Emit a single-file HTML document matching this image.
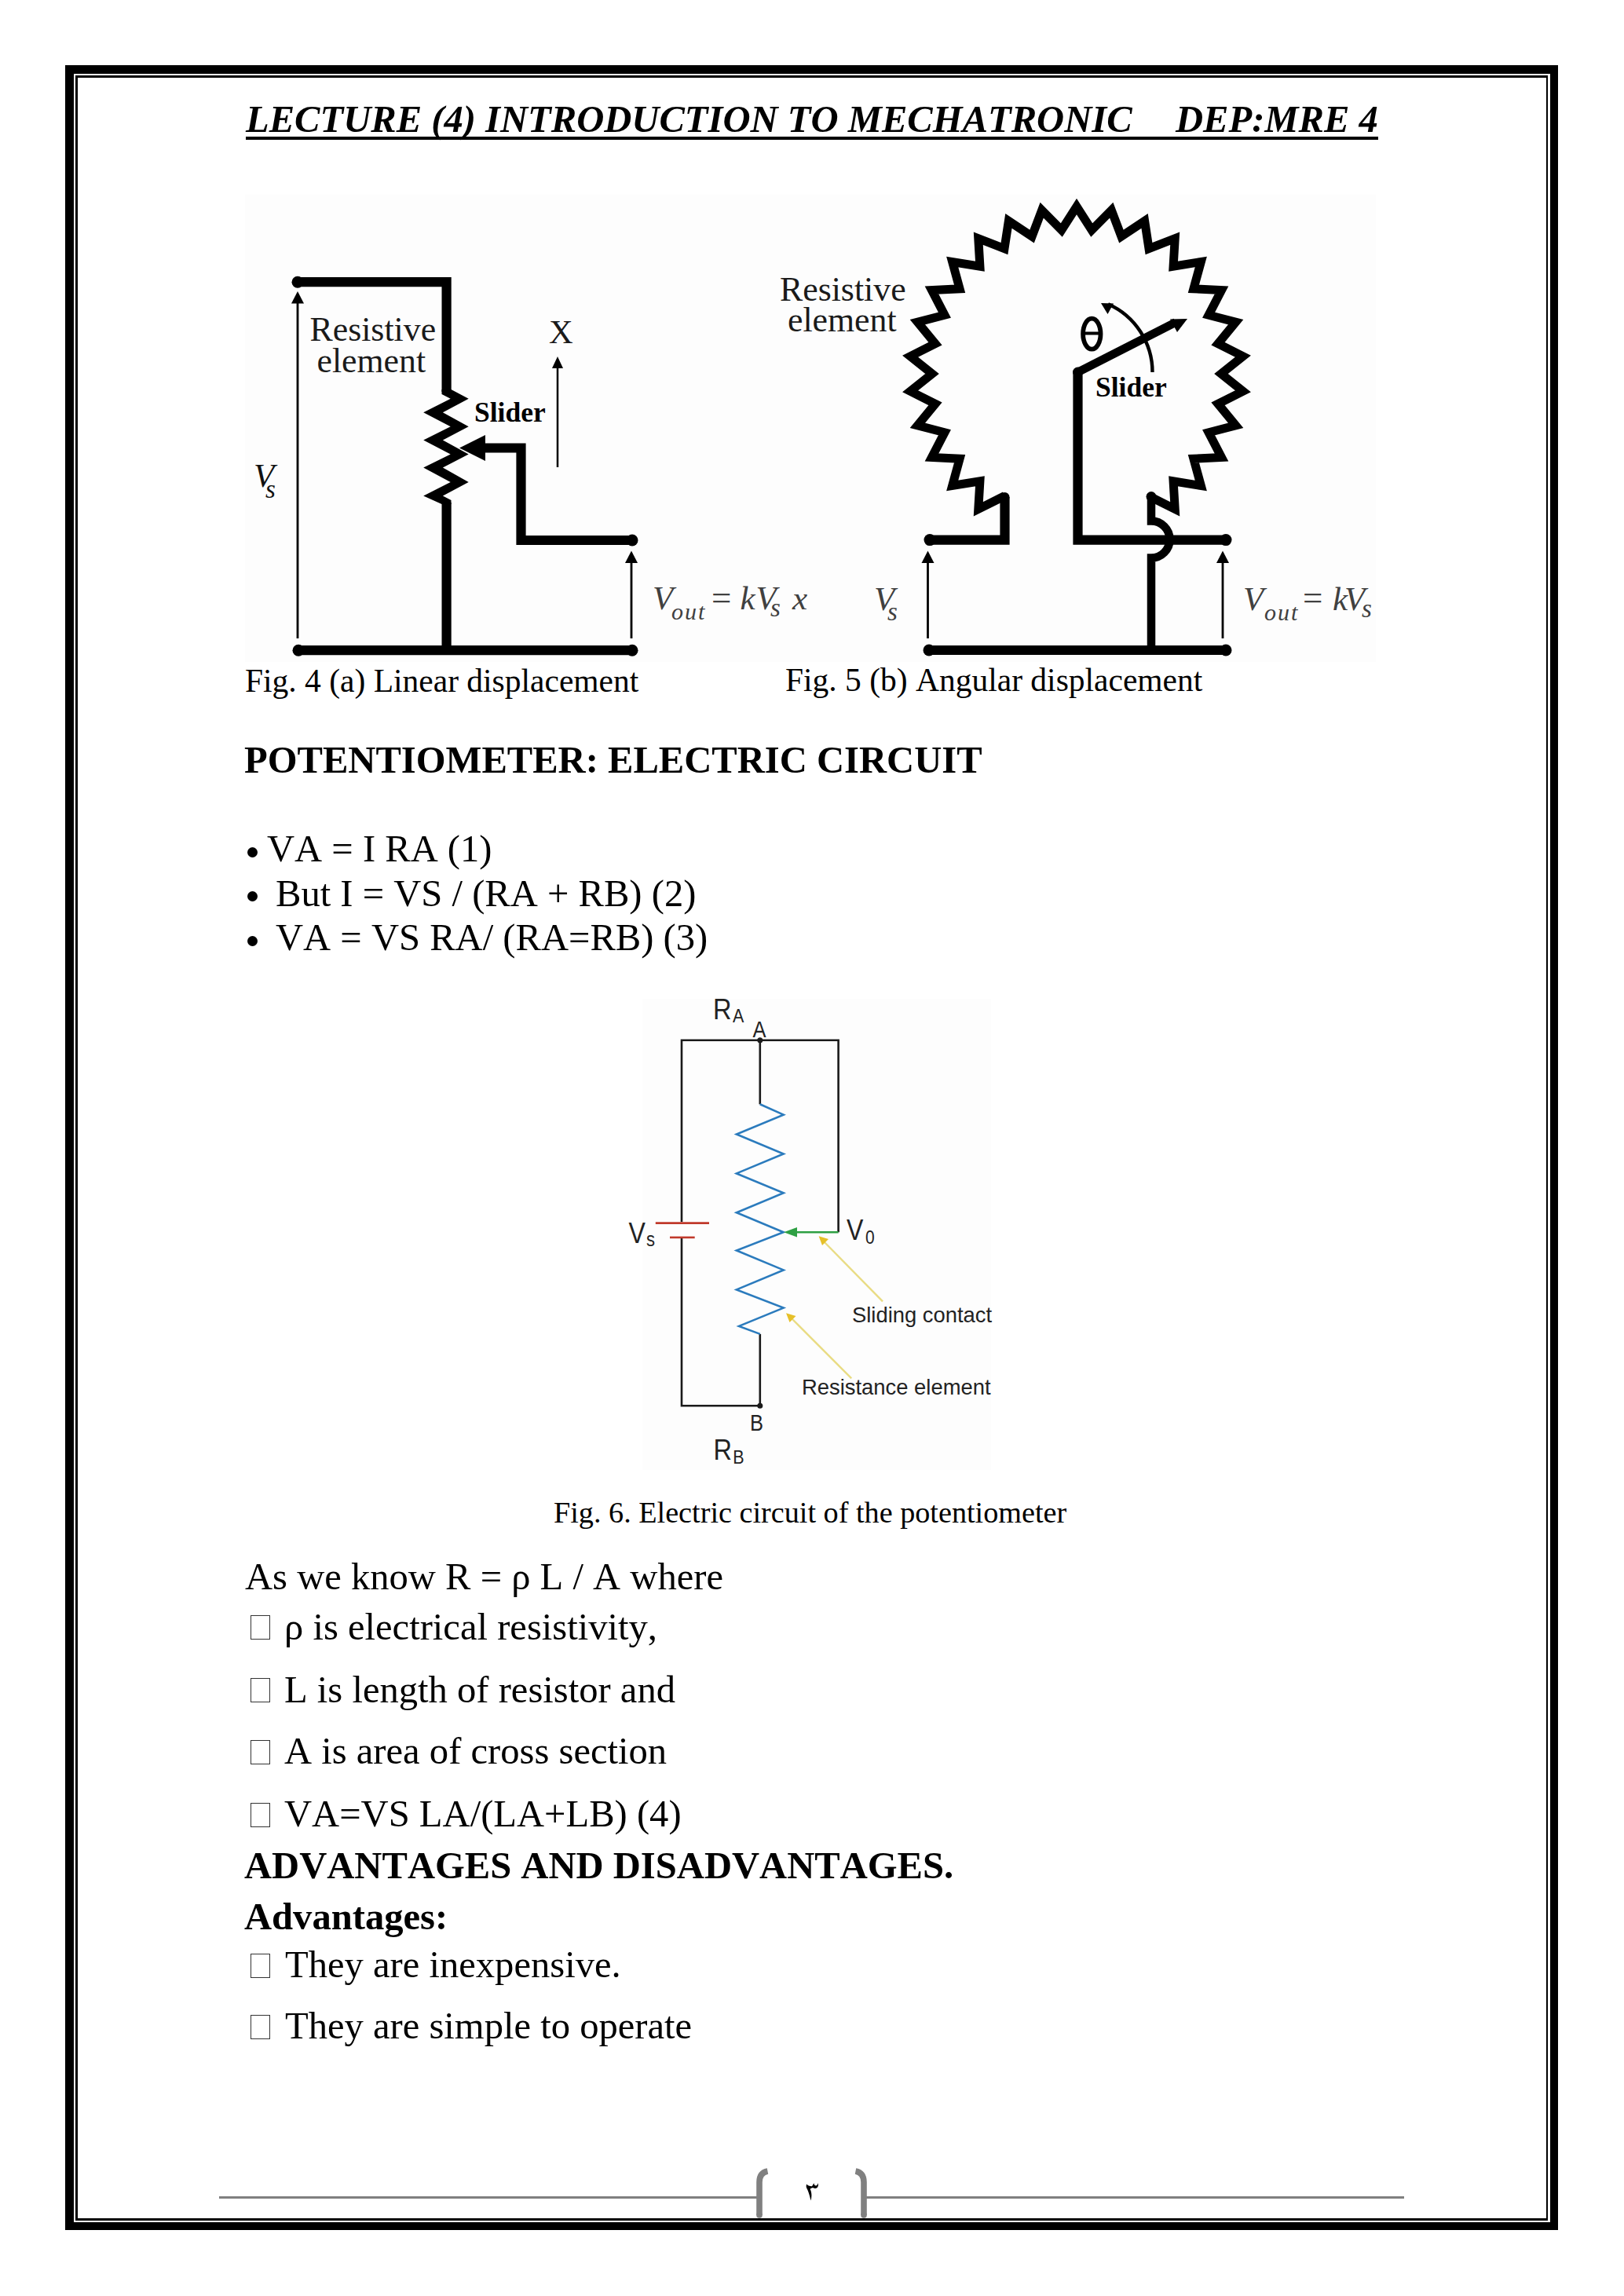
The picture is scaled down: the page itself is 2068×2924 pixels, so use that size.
<!DOCTYPE html>
<html><head><meta charset="utf-8"><style>
html,body{margin:0;padding:0;background:#fff;}
body{width:2068px;height:2924px;position:relative;overflow:hidden;}
.t{position:absolute;white-space:pre;font-kerning:none;}
svg{position:absolute;left:0;top:0;}
</style></head><body>
<div style="position:absolute;left:83px;top:83px;width:1901px;height:2757px;box-sizing:border-box;border-style:solid;border-color:#000;border-width:11px 10px 10px 11px"></div>
<div style="position:absolute;left:96px;top:96px;width:1875px;height:2732px;box-sizing:border-box;border-style:solid;border-color:#000;border-width:3px 2px 3px 3px"></div>
<div class="t" style="left:313.0px;top:127.9px;font-family:'Liberation Serif', serif;font-size:48.6px;line-height:48.6px;font-weight:bold;font-style:italic;color:#000;">LECTURE (4) INTRODUCTION TO MECHATRONIC</div>
<div class="t" style="left:1497.0px;top:127.9px;font-family:'Liberation Serif', serif;font-size:48.6px;line-height:48.6px;font-weight:bold;font-style:italic;color:#000;">DEP:MRE 4</div>
<div style="position:absolute;left:313px;top:174px;width:1442px;height:4px;background:#000"></div>
<div style="position:absolute;left:312px;top:248px;width:1440px;height:595px;background:#fdfdfd"></div>
<div class="t" style="left:394.5px;top:398.1px;font-family:'Liberation Serif', serif;font-size:43.8px;line-height:43.8px;font-weight:normal;font-style:normal;color:#1a1a1a;">Resistive</div>
<div class="t" style="left:403.5px;top:437.6px;font-family:'Liberation Serif', serif;font-size:43.8px;line-height:43.8px;font-weight:normal;font-style:normal;color:#1a1a1a;">element</div>
<div class="t" style="left:699.0px;top:401.9px;font-family:'Liberation Serif', serif;font-size:42.5px;line-height:42.5px;font-weight:normal;font-style:normal;color:#1a1a1a;">X</div>
<div class="t" style="left:604.0px;top:508.0px;font-family:'Liberation Serif', serif;font-size:35.5px;line-height:35.5px;font-weight:bold;font-style:normal;color:#000;">Slider</div>
<div class="t" style="left:323.0px;top:584.3px;font-family:'Liberation Serif', serif;font-size:43px;line-height:43px;font-weight:normal;font-style:italic;color:#111;">V</div>
<div class="t" style="left:338.0px;top:606.9px;font-family:'Liberation Serif', serif;font-size:33px;line-height:33px;font-weight:normal;font-style:italic;color:#111;">s</div>
<div class="t" style="left:831.0px;top:740.4px;font-family:'Liberation Serif', serif;font-size:43px;line-height:43px;font-weight:normal;font-style:italic;color:#404040;">V</div>
<div class="t" style="left:855.0px;top:764.2px;font-family:'Liberation Serif', serif;font-size:30px;line-height:30px;font-weight:normal;font-style:italic;color:#404040;letter-spacing:2px">out</div>
<div class="t" style="left:906.0px;top:738.7px;font-family:'Liberation Serif', serif;font-size:45px;line-height:45px;font-weight:normal;font-style:normal;color:#404040;">=</div>
<div class="t" style="left:942.5px;top:740.4px;font-family:'Liberation Serif', serif;font-size:43px;line-height:43px;font-weight:normal;font-style:italic;color:#404040;">k</div>
<div class="t" style="left:962.5px;top:740.4px;font-family:'Liberation Serif', serif;font-size:43px;line-height:43px;font-weight:normal;font-style:italic;color:#404040;">V</div>
<div class="t" style="left:981.0px;top:757.9px;font-family:'Liberation Serif', serif;font-size:33px;line-height:33px;font-weight:normal;font-style:italic;color:#404040;">s</div>
<div class="t" style="left:1009.0px;top:740.4px;font-family:'Liberation Serif', serif;font-size:43px;line-height:43px;font-weight:normal;font-style:italic;color:#404040;">x</div>
<div class="t" style="left:312.0px;top:847.2px;font-family:'Liberation Serif', serif;font-size:41.5px;line-height:41.5px;font-weight:normal;font-style:normal;color:#000;">Fig. 4 (a) Linear displacement</div>
<div class="t" style="left:993.0px;top:347.1px;font-family:'Liberation Serif', serif;font-size:43.8px;line-height:43.8px;font-weight:normal;font-style:normal;color:#1a1a1a;">Resistive</div>
<div class="t" style="left:1003.0px;top:386.3px;font-family:'Liberation Serif', serif;font-size:43.8px;line-height:43.8px;font-weight:normal;font-style:normal;color:#1a1a1a;">element</div>
<div class="t" style="left:1395.0px;top:476.3px;font-family:'Liberation Serif', serif;font-size:35.5px;line-height:35.5px;font-weight:bold;font-style:normal;color:#000;">Slider</div>
<div class="t" style="left:1113.0px;top:741.0px;font-family:'Liberation Serif', serif;font-size:43px;line-height:43px;font-weight:normal;font-style:italic;color:#404040;">V</div>
<div class="t" style="left:1130.0px;top:763.4px;font-family:'Liberation Serif', serif;font-size:33px;line-height:33px;font-weight:normal;font-style:italic;color:#404040;">s</div>
<div class="t" style="left:1583.0px;top:741.0px;font-family:'Liberation Serif', serif;font-size:43px;line-height:43px;font-weight:normal;font-style:italic;color:#404040;">V</div>
<div class="t" style="left:1610.0px;top:764.9px;font-family:'Liberation Serif', serif;font-size:30px;line-height:30px;font-weight:normal;font-style:italic;color:#404040;letter-spacing:2px">out</div>
<div class="t" style="left:1659.0px;top:739.3px;font-family:'Liberation Serif', serif;font-size:45px;line-height:45px;font-weight:normal;font-style:normal;color:#404040;">=</div>
<div class="t" style="left:1697.0px;top:741.0px;font-family:'Liberation Serif', serif;font-size:43px;line-height:43px;font-weight:normal;font-style:italic;color:#404040;">k</div>
<div class="t" style="left:1712.0px;top:741.0px;font-family:'Liberation Serif', serif;font-size:43px;line-height:43px;font-weight:normal;font-style:italic;color:#404040;">V</div>
<div class="t" style="left:1734.0px;top:758.9px;font-family:'Liberation Serif', serif;font-size:33px;line-height:33px;font-weight:normal;font-style:italic;color:#404040;">s</div>
<div class="t" style="left:1000.0px;top:846.2px;font-family:'Liberation Serif', serif;font-size:41.5px;line-height:41.5px;font-weight:normal;font-style:normal;color:#000;">Fig. 5 (b) Angular displacement</div>
<div class="t" style="left:311.0px;top:943.7px;font-family:'Liberation Serif', serif;font-size:48.6px;line-height:48.6px;font-weight:bold;font-style:normal;color:#000;">POTENTIOMETER: ELECTRIC CIRCUIT</div>
<div style="position:absolute;left:314.8px;top:1079.1px;width:13px;height:13px;border-radius:50%;background:#000"></div>
<div class="t" style="left:340.0px;top:1057.4px;font-family:'Liberation Serif', serif;font-size:48.6px;line-height:48.6px;font-weight:normal;font-style:normal;color:#000;">VA = I RA (1)</div>
<div style="position:absolute;left:314.8px;top:1135.3px;width:13px;height:13px;border-radius:50%;background:#000"></div>
<div class="t" style="left:351.0px;top:1113.6px;font-family:'Liberation Serif', serif;font-size:48.6px;line-height:48.6px;font-weight:normal;font-style:normal;color:#000;">But I = VS / (RA + RB) (2)</div>
<div style="position:absolute;left:314.8px;top:1191.5px;width:13px;height:13px;border-radius:50%;background:#000"></div>
<div class="t" style="left:351.0px;top:1169.8px;font-family:'Liberation Serif', serif;font-size:48.6px;line-height:48.6px;font-weight:normal;font-style:normal;color:#000;">VA = VS RA/ (RA=RB) (3)</div>
<div style="position:absolute;left:818px;top:1272px;width:444px;height:600px;background:#fdfdfd"></div>
<div class="t" style="left:908.0px;top:1270.7px;font-family:'Liberation Sans', sans-serif;font-size:32.5px;line-height:32.5px;font-weight:normal;font-style:normal;color:#222;transform:scaleY(1.13);transform-origin:0 26.8px">R</div>
<div class="t" style="left:933.0px;top:1285.1px;font-family:'Liberation Sans', sans-serif;font-size:21.5px;line-height:21.5px;font-weight:normal;font-style:normal;color:#222;transform:scaleY(1.13);transform-origin:0 17.6px">A</div>
<div class="t" style="left:958.5px;top:1299.8px;font-family:'Liberation Sans', sans-serif;font-size:25.5px;line-height:25.5px;font-weight:normal;font-style:normal;color:#222;transform:scaleY(1.13);transform-origin:0 21.0px">A</div>
<div class="t" style="left:800.5px;top:1556.1px;font-family:'Liberation Sans', sans-serif;font-size:32px;line-height:32px;font-weight:normal;font-style:normal;color:#222;transform:scaleY(1.13);transform-origin:0 26.4px">V</div>
<div class="t" style="left:823.0px;top:1569.3px;font-family:'Liberation Sans', sans-serif;font-size:22px;line-height:22px;font-weight:normal;font-style:normal;color:#222;transform:scaleY(1.13);transform-origin:0 18.0px">s</div>
<div class="t" style="left:1078.0px;top:1551.8px;font-family:'Liberation Sans', sans-serif;font-size:32px;line-height:32px;font-weight:normal;font-style:normal;color:#222;transform:scaleY(1.13);transform-origin:0 26.4px">V</div>
<div class="t" style="left:1102.0px;top:1565.9px;font-family:'Liberation Sans', sans-serif;font-size:21px;line-height:21px;font-weight:normal;font-style:normal;color:#222;transform:scaleY(1.13);transform-origin:0 17.2px">0</div>
<div class="t" style="left:1085.0px;top:1661.0px;font-family:'Liberation Sans', sans-serif;font-size:27.4px;line-height:27.4px;font-weight:normal;font-style:normal;color:#222;">Sliding contact</div>
<div class="t" style="left:1021.0px;top:1752.9px;font-family:'Liberation Sans', sans-serif;font-size:27.4px;line-height:27.4px;font-weight:normal;font-style:normal;color:#222;">Resistance element</div>
<div class="t" style="left:955.0px;top:1801.0px;font-family:'Liberation Sans', sans-serif;font-size:25.5px;line-height:25.5px;font-weight:normal;font-style:normal;color:#222;transform:scaleY(1.13);transform-origin:0 21.0px">B</div>
<div class="t" style="left:908.5px;top:1832.3px;font-family:'Liberation Sans', sans-serif;font-size:32.5px;line-height:32.5px;font-weight:normal;font-style:normal;color:#222;transform:scaleY(1.13);transform-origin:0 26.8px">R</div>
<div class="t" style="left:933.3px;top:1846.9px;font-family:'Liberation Sans', sans-serif;font-size:21.5px;line-height:21.5px;font-weight:normal;font-style:normal;color:#222;transform:scaleY(1.13);transform-origin:0 17.6px">B</div>
<div class="t" style="left:705.0px;top:1907.3px;font-family:'Liberation Serif', serif;font-size:38.2px;line-height:38.2px;font-weight:normal;font-style:normal;color:#000;">Fig. 6. Electric circuit of the potentiometer</div>
<div class="t" style="left:312.0px;top:1984.2px;font-family:'Liberation Serif', serif;font-size:48.6px;line-height:48.6px;font-weight:normal;font-style:normal;color:#000;">As we know R = ρ L / A where</div>
<div style="position:absolute;left:319px;top:2057.2px;width:25px;height:31px;box-sizing:border-box;border:1.5px solid #333"></div>
<div class="t" style="left:362.0px;top:2047.5px;font-family:'Liberation Serif', serif;font-size:48.6px;line-height:48.6px;font-weight:normal;font-style:normal;color:#000;">ρ is electrical resistivity,</div>
<div style="position:absolute;left:319px;top:2137.4px;width:25px;height:31px;box-sizing:border-box;border:1.5px solid #333"></div>
<div class="t" style="left:362.0px;top:2127.7px;font-family:'Liberation Serif', serif;font-size:48.6px;line-height:48.6px;font-weight:normal;font-style:normal;color:#000;">L is length of resistor and</div>
<div style="position:absolute;left:319px;top:2215.9px;width:25px;height:31px;box-sizing:border-box;border:1.5px solid #333"></div>
<div class="t" style="left:362.0px;top:2206.2px;font-family:'Liberation Serif', serif;font-size:48.6px;line-height:48.6px;font-weight:normal;font-style:normal;color:#000;">A is area of cross section</div>
<div style="position:absolute;left:319px;top:2295.6px;width:25px;height:31px;box-sizing:border-box;border:1.5px solid #333"></div>
<div class="t" style="left:362.0px;top:2285.9px;font-family:'Liberation Serif', serif;font-size:48.6px;line-height:48.6px;font-weight:normal;font-style:normal;color:#000;">VA=VS LA/(LA+LB) (4)</div>
<div class="t" style="left:311.0px;top:2351.9px;font-family:'Liberation Serif', serif;font-size:48.6px;line-height:48.6px;font-weight:bold;font-style:normal;color:#000;">ADVANTAGES AND DISADVANTAGES.</div>
<div class="t" style="left:311.0px;top:2416.5px;font-family:'Liberation Serif', serif;font-size:48.6px;line-height:48.6px;font-weight:bold;font-style:normal;color:#000;">Advantages:</div>
<div style="position:absolute;left:319px;top:2487.8px;width:25px;height:31px;box-sizing:border-box;border:1.5px solid #333"></div>
<div class="t" style="left:363.0px;top:2478.1px;font-family:'Liberation Serif', serif;font-size:48.6px;line-height:48.6px;font-weight:normal;font-style:normal;color:#000;">They are inexpensive.</div>
<div style="position:absolute;left:319px;top:2566px;width:25px;height:31px;box-sizing:border-box;border:1.5px solid #333"></div>
<div class="t" style="left:363.0px;top:2556.3px;font-family:'Liberation Serif', serif;font-size:48.6px;line-height:48.6px;font-weight:normal;font-style:normal;color:#000;">They are simple to operate</div>
<div style="position:absolute;left:279px;top:2797px;width:686px;height:3px;background:#808080"></div>
<div style="position:absolute;left:1102px;top:2797px;width:686px;height:3px;background:#808080"></div>
<svg width="2068" height="2924" viewBox="0 0 2068 2924">
<path d="M379,359.2 H568.6 V499" fill="none" stroke="#000" stroke-width="12.2"/>
<circle cx="379" cy="359.2" r="7.5" fill="#000"/>
<polygon points="574.5,496 596.7,507.8 563.9,525.2 596.7,543.3 563.9,560.4 596.7,578.5 563.9,595.6 596.7,614 563.9,631.5 574.5,637 574.5,642 562.5,642 539.2,631.5 573.7,614 539.2,595.6 573.7,578.5 539.2,560.4 573.7,543.3 539.2,525.2 573.7,507.8 562.5,502 562.5,496" fill="#000"/>
<path d="M568.6,640 V828.2" fill="none" stroke="#000" stroke-width="12.2"/>
<path d="M380,828.2 H805" fill="none" stroke="#000" stroke-width="12.2"/>
<circle cx="380" cy="828.2" r="7.5" fill="#000"/>
<circle cx="805" cy="828.2" r="7.5" fill="#000"/>
<path d="M612,570.5 H663.5 V688 H805" fill="none" stroke="#000" stroke-width="12.2"/>
<circle cx="805" cy="688" r="7.5" fill="#000"/>
<polygon points="585,570.5 618,554 618,587" fill="#000"/>
<line x1="379" y1="384.5" x2="379" y2="813" stroke="#000" stroke-width="2.8"/>
<polygon points="379,371 371,386.5 387,386.5" fill="#000"/>
<line x1="710" y1="467" x2="710" y2="595" stroke="#000" stroke-width="2.5"/>
<polygon points="710,454 703,469 717,469" fill="#000"/>
<line x1="804" y1="715.0" x2="804" y2="813" stroke="#000" stroke-width="2.8"/>
<polygon points="804,701.5 796,717.0 812,717.0" fill="#000"/>
<polyline points="1279.5,631.5 1245.8,648.3 1247.9,612.7 1212.7,618.5 1222.1,584.2 1186.5,582.5 1202.9,550.8 1168.4,541.8 1191.0,514.3 1159.2,498.3 1187.0,476.0 1159.2,453.7 1191.0,437.7 1168.4,410.2 1202.9,401.2 1186.5,369.5 1222.1,367.8 1212.7,333.5 1247.9,339.3 1245.8,303.7 1279.0,316.7 1284.4,281.4 1314.1,301.0 1326.7,267.7 1351.8,293.0 1371.0,263.0 1390.2,293.0 1415.3,267.7 1427.9,301.0 1457.6,281.4 1463.0,316.7 1496.2,303.7 1494.1,339.3 1529.3,333.5 1519.9,367.8 1555.5,369.5 1539.1,401.2 1573.6,410.2 1551.0,437.7 1582.8,453.7 1555.0,476.0 1582.8,498.3 1551.0,514.3 1573.6,541.8 1539.1,550.8 1555.5,582.5 1519.9,584.2 1529.3,618.5 1494.1,612.7 1496.2,648.3 1465.5,633.0" fill="none" stroke="#000" stroke-width="11" stroke-linejoin="miter" stroke-miterlimit="6"/>
<circle cx="1279.5" cy="633" r="6" fill="#000"/>
<path d="M1184,687.6 H1279.5 V633" fill="none" stroke="#000" stroke-width="12.2"/>
<circle cx="1184" cy="687.6" r="7.5" fill="#000"/>
<path d="M1372.5,474 V687.6 H1561" fill="none" stroke="#000" stroke-width="12.2"/>
<circle cx="1561" cy="687.6" r="7.5" fill="#000"/>
<circle cx="1372.5" cy="474" r="6.5" fill="#000"/>
<line x1="1372.5" y1="474" x2="1497" y2="410.5" stroke="#000" stroke-width="10.5"/>
<polygon points="1512,406 1490,406.5 1499,423" fill="#000"/>
<path d="M1466,632.5 V663.5 A23.5,23.5 0 0 1 1466,710.5 V828" fill="none" stroke="#000" stroke-width="10.5"/>
<circle cx="1466" cy="632.5" r="6.5" fill="#000"/>
<path d="M1183,828 H1561" fill="none" stroke="#000" stroke-width="12.2"/>
<circle cx="1183" cy="828" r="7.5" fill="#000"/>
<circle cx="1561" cy="828" r="7.5" fill="#000"/>
<line x1="1181.5" y1="715.0" x2="1181.5" y2="813" stroke="#000" stroke-width="2.8"/>
<polygon points="1181.5,701.5 1173.5,717.0 1189.5,717.0" fill="#000"/>
<line x1="1557" y1="715.0" x2="1557" y2="813" stroke="#000" stroke-width="2.8"/>
<polygon points="1557,701.5 1549,717.0 1565,717.0" fill="#000"/>
<path d="M1467.5,474.0 A95,95 0 0 0 1411.1,387.2" fill="none" stroke="#000" stroke-width="4.4"/>
<polygon points="1402,386 1418,386.5 1410.5,400" fill="#000"/>
<ellipse cx="1390.3" cy="425.2" rx="11.2" ry="19.5" fill="none" stroke="#000" stroke-width="5.8"/>
<line x1="1380" y1="424.5" x2="1401" y2="424.5" stroke="#000" stroke-width="4"/>
<path d="M868,1556 V1324.8 H1067.6 V1569.2" fill="none" stroke="#1a1a1a" stroke-width="2.6"/>
<path d="M868,1576 V1790.3 H967.8" fill="none" stroke="#1a1a1a" stroke-width="2.6"/>
<path d="M967.8,1324.8 V1406.3" fill="none" stroke="#1a1a1a" stroke-width="2.6"/>
<path d="M967.8,1698.9 V1790.3" fill="none" stroke="#1a1a1a" stroke-width="2.6"/>
<circle cx="967.8" cy="1324.8" r="3.5" fill="#1a1a1a"/>
<circle cx="967.8" cy="1790.3" r="3.5" fill="#1a1a1a"/>
<line x1="834.8" y1="1557.6" x2="903" y2="1557.6" stroke="#c0392b" stroke-width="2.6"/>
<line x1="853" y1="1575.9" x2="884.7" y2="1575.9" stroke="#c0392b" stroke-width="2.6"/>
<polyline points="967.8,1406.3 997.7,1419.6 937.9,1444.5 997.7,1469.5 937.9,1494.4 997.7,1519.3 937.9,1544.3 997.7,1569.2 937.9,1592.5 997.7,1617.4 937.9,1642.4 997.7,1665.6 941,1688.9 967.8,1698.9" fill="none" stroke="#2b7bbd" stroke-width="2.6" stroke-linejoin="miter"/>
<line x1="1012" y1="1569.2" x2="1067.6" y2="1569.2" stroke="#2ea043" stroke-width="2.6"/>
<polygon points="998,1569.2 1015,1563 1015,1575.4" fill="#2ea043"/>
<line x1="1124" y1="1657.3" x2="1047" y2="1579" stroke="#e9dc84" stroke-width="2.4"/>
<polygon points="1042.6,1574.2 1055,1578 1047,1586" fill="#e6c02a"/>
<line x1="1084.2" y1="1755.4" x2="1006" y2="1677" stroke="#e9dc84" stroke-width="2.4"/>
<polygon points="1001,1672.3 1013.5,1676 1005.5,1684" fill="#e6c02a"/>
<path d="M977.5,2765 Q967,2767 967,2779 V2821" fill="none" stroke="#808080" stroke-width="7.6"/>
<circle cx="967" cy="2821" r="3.8" fill="#808080"/>
<path d="M1089.5,2765 Q1100,2767 1100,2779 V2821" fill="none" stroke="#808080" stroke-width="7.6"/>
<circle cx="1100" cy="2821" r="3.8" fill="#808080"/>
<path d="M1027.2,2781.5 C1028.5,2783.2 1031,2784.4 1034,2784.3 L1036.4,2780.3 C1036.8,2782.5 1037.8,2783.7 1039,2783.6 C1040.3,2783.4 1041.2,2782 1041.6,2780.3 C1042.6,2783.2 1041.6,2786.6 1038.3,2786.9 C1036.7,2787 1035.6,2786.4 1035,2786.1 C1033.6,2786.6 1032.2,2787.3 1031.6,2787.9 C1033.6,2791.2 1034.1,2797 1032.4,2802.6 C1031.3,2797 1029.6,2791 1027.3,2786.8 C1026.4,2785.2 1026.5,2783.2 1027.2,2781.5 Z" fill="#000"/>
</svg>
</body></html>
